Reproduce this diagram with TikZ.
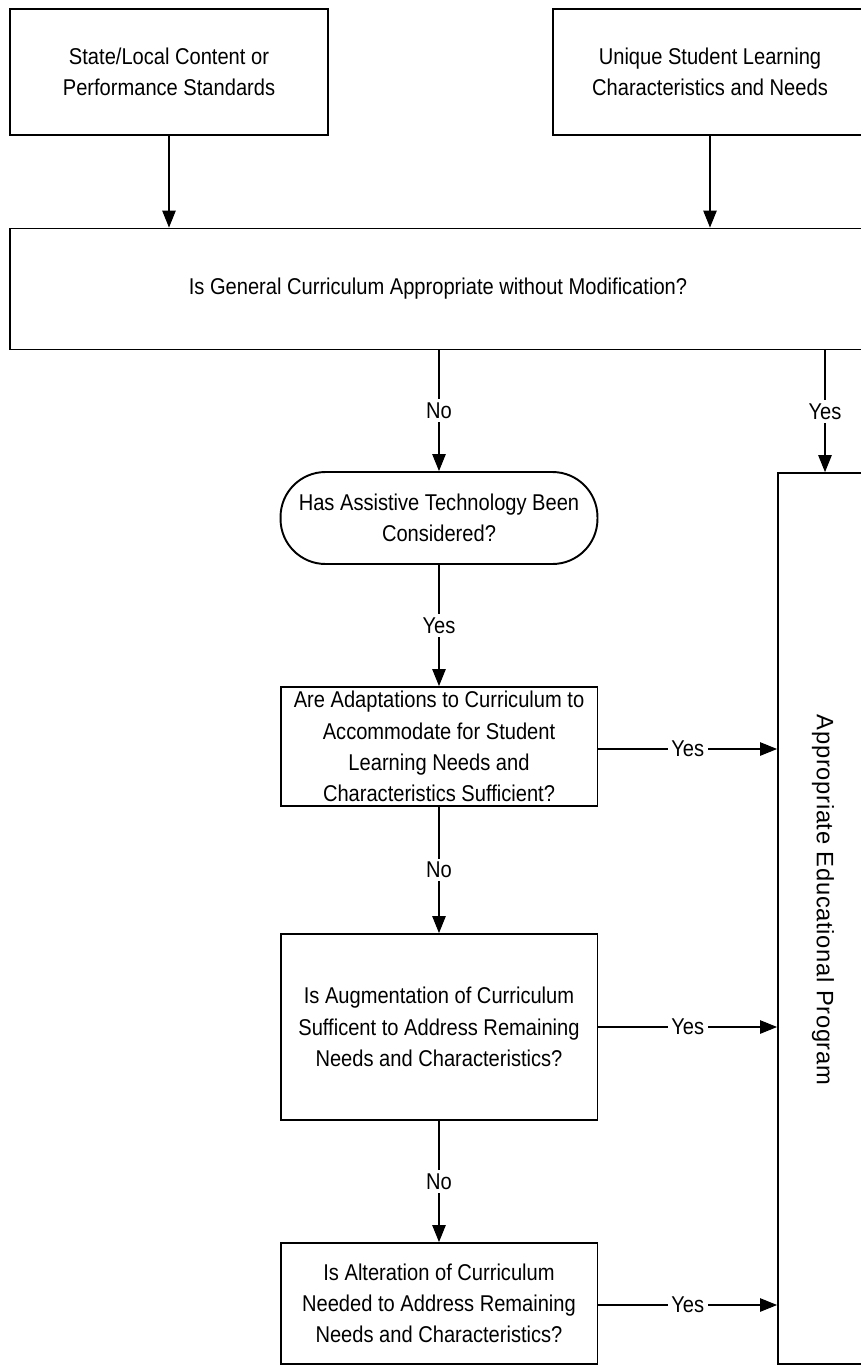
\documentclass[tikz,border=0pt]{standalone}
\usepackage{fontspec}
\setmainfont{Liberation Sans}[FakeStretch=0.88]
\newfontfamily\progfont{Liberation Sans}[LetterSpace=3]
\usetikzlibrary{arrows}
\usetikzlibrary{calc,arrows.meta}

\begin{document}
\begin{tikzpicture}[x=0.02cm,y=-0.02cm,
	every node/.style={font=\fontsize{13}{17.8}\selectfont, align=center, inner sep=1pt},
	box/.style={draw, rectangle, line width=1.1pt, minimum width=6.34cm},
	conn/.style={line width=0.6pt, -{Triangle[length=3.4mm,width=2.7mm]}},
	lbl/.style={fill=white, inner sep=2pt}]
				\useasboundingbox (0,0) rectangle (861,1366);
				%top row and the wide question placed by hand
				\node[box, minimum width=6.36cm, minimum height=2.52cm] (std) at (169,72)
					{State/Local Content or\\Performance Standards};
				\node[box, minimum width=6.28cm, minimum height=2.52cm] (uniq) at (710,72)
					{Unique Student Learning\\Characteristics and Needs};
				\node[box, minimum width=17.12cm, minimum height=2.42cm] (gen) at (438,289)
					{Is General Curriculum Appropriate without Modification?};

				%% left column of questions
				\node[box, rounded corners=0.9cm, minimum height=1.84cm] (tech) at (439,518)
					{Has Assistive Technology Been\\Considered?};
				\node[box, minimum height=2.38cm, inner sep=0pt] (adapt) at (439,746.5)
					{Are Adaptations to Curriculum to\\Accommodate for Student\\Learning Needs and\\Characteristics Sufficient?};
				\node[box, minimum height=3.72cm] (augm) at (439,1027)
					{Is Augmentation of Curriculum\\Sufficent to Address Remaining\\Needs and Characteristics?};
				\node[box, minimum height=2.42cm] (alter) at (439,1303.5)
					{Is Alteration of Curriculum\\Needed to Address Remaining\\Needs and Characteristics?};

				%% tall box on the right
				\node[box, minimum width=1.88cm, minimum height=17.82cm] (prog) at (825,918.5) {};
				\node[rotate=-90, font=\progfont\fontsize{13.5}{15}\selectfont] (progtxt) at (823,900)
					{Appropriate Educational Program};

				\draw[conn] (std) -- (std |- gen.north);
				\draw[conn] (uniq) -- (uniq |- gen.north);
				\draw[conn] (tech |- gen.south) -- node[lbl]{No} (tech);
				\draw[conn] (prog |- gen.south) -- node[lbl]{Yes} (prog);
				\draw[conn] (tech) -- node[lbl]{Yes} (adapt);
				\draw[conn] (adapt) -- node[lbl]{No} (augm);
				\draw[conn] (augm) -- node[lbl]{No} (alter);
				\foreach \q/\yy in {adapt/749, augm/1027, alter/1305}{
					\draw[conn] (\q.east |- 0,\yy) -- node[lbl]{Yes} (prog.west |- 0,\yy);
					}
				\end{tikzpicture}
\end{document}
